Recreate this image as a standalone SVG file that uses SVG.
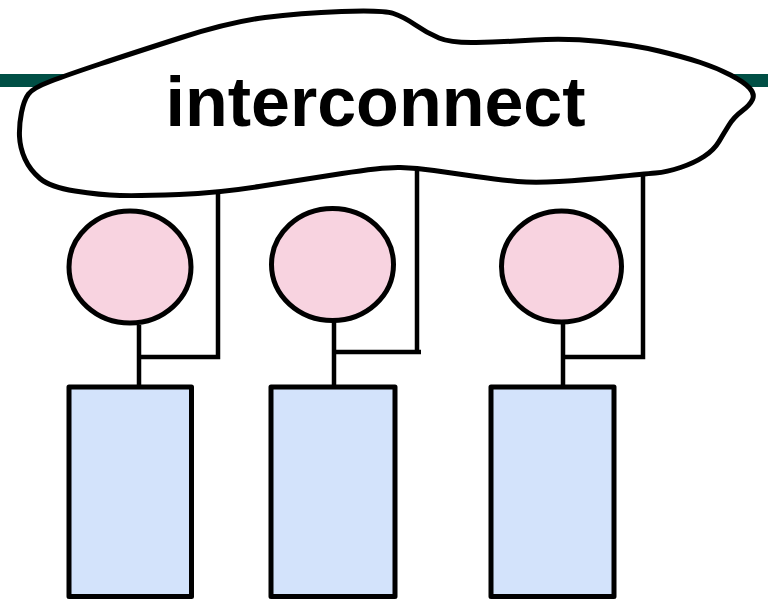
<svg xmlns="http://www.w3.org/2000/svg" width="768" height="600" viewBox="0 0 768 600">
<style>
.ln{fill:none;stroke:#000;stroke-width:4.5}
.cloud{fill:#fff;stroke:#000;stroke-width:5;stroke-linejoin:round}
.pe{fill:#F8D3E0;stroke:#000;stroke-width:5}
.mem{fill:#D3E3FB;stroke:#000;stroke-width:5;stroke-linejoin:round}
.lbl{font-family:"Liberation Sans",Arial,sans-serif;font-weight:bold;font-size:70px;fill:#000}
</style>
<rect x="0" y="74" width="768" height="13" fill="#004F45"/>
<g id="connectors">
<path class="ln" d="M218,192 V357 H137 M139,325 V388"/>
<path class="ln" d="M417,167 V352 M421,352 H332 M334,322 V388"/>
<path class="ln" d="M643,173 V357 H561 M563,322 V388"/>
</g>
<g id="interconnect">
<path class="cloud" d="M 50,81.5 Q 67,75 100,64 Q 133,53 181.5,37.5 Q 230,22 265,17.5 Q 300,13 341.5,11.5 Q 383,10 393.5,13.5 Q 404,17 415.5,25 Q 427,33 439,38 Q 451,43 476,42.5 Q 501,42 534,40 Q 567,38 600.5,41.5 Q 634,45 659,51 Q 684,57 700.5,62.5 Q 717,68 730.5,75 Q 744,82 749.5,88 Q 755,94 752.5,99.5 Q 750,105 742,111 Q 734,117 729,125 Q 724,133 719,141.5 Q 714,150 704,156.5 Q 694,163 680.5,167.5 Q 667,172 655.5,173 Q 644,174 614,177 Q 584,180 559,181.5 Q 534,183 517.5,181.5 Q 501,180 476,176.5 Q 451,173 434,170.5 Q 417,168 400.5,167.5 Q 384,167 342,173.5 Q 300,180 259,186.5 Q 218,193 179,194.5 Q 140,196 120,195.5 Q 100,195 75,191 Q 50,187 40,178.5 Q 30,170 25,159 Q 20,148 19.5,136.5 Q 19,125 21.5,112.5 Q 24,100 28.5,94 Q 33,88 50,81.5 Z"/>
<text class="lbl" x="165.5" y="126">interconnect</text>
</g>
<g id="p1"><ellipse class="pe" cx="130" cy="267" rx="61" ry="56"/></g>
<g id="p2"><ellipse class="pe" cx="332.5" cy="264.5" rx="61" ry="56"/></g>
<g id="p3"><ellipse class="pe" cx="561.5" cy="266.5" rx="60" ry="55.5"/></g>
<g id="m1"><rect class="mem" x="69" y="387" width="122.5" height="209.5"/></g>
<g id="m2"><rect class="mem" x="271" y="387" width="124" height="209.5"/></g>
<g id="m3"><rect class="mem" x="491" y="387" width="123" height="209.5"/></g>
</svg>
